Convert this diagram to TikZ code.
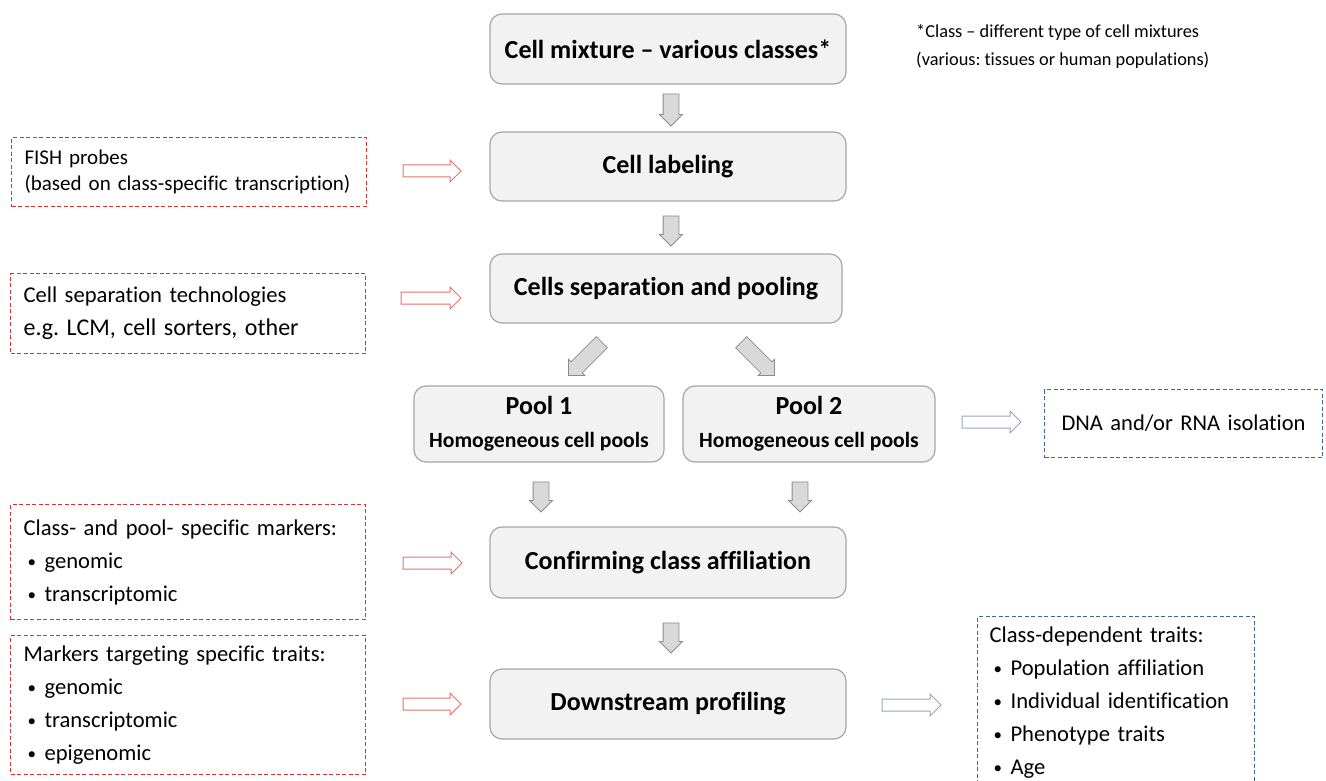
\documentclass[tikz,border=0pt]{standalone}
\usepackage{fontspec}
\setmainfont{Carlito}[Ligatures=NoCommon]
\usetikzlibrary{shapes.arrows}
\definecolor{boxfill}{HTML}{F2F2F2}
\definecolor{boxdraw}{HTML}{A6A6A6}
\definecolor{arrfill}{HTML}{D9D9D9}
\definecolor{arrdraw}{HTML}{8C8C8C}
\definecolor{redd}{HTML}{DC3030}
\definecolor{blued}{HTML}{3A65A8}
\definecolor{redarr}{HTML}{E57373}
\definecolor{bluearr}{HTML}{9AA6B8}
\newcommand\bulitem{\hspace*{4pt}\makebox[17pt][l]{\raisebox{1pt}{\fontsize{17}{17}\selectfont\textbullet}}}
\frenchspacing
\begin{document}
\begin{tikzpicture}[x=1pt,y=-1pt,
 mainbox/.style={draw=boxdraw, fill=boxfill, rounded corners=12pt, line width=1.2pt,
   font=\fontsize{26}{30}\selectfont\bfseries, align=center, inner sep=0pt},
 sidebox/.style={dashed, dash pattern=on 4pt off 2.5pt, line width=1.1pt, anchor=north west,
   align=left, inner xsep=13pt, inner ysep=0pt, font=\fontsize{22.6}{33}\selectfont},
 redbox/.style={sidebox, draw=redd},
 bluebox/.style={sidebox, draw=blued},
 grayarrow/.style={single arrow, draw=arrdraw, fill=arrfill, inner sep=0pt, inner ysep=7.5pt,
   single arrow head extend=3.5pt, minimum width=22pt, line width=0.8pt},
 outarrow/.style={single arrow, fill=white, inner sep=0pt, inner ysep=5.5pt,
   single arrow head extend=5pt, minimum width=21pt, minimum height=58pt, line width=1pt},
 redarrow/.style={outarrow, draw=redarr},
 bluearrow/.style={outarrow, draw=bluearr},
 note/.style={anchor=west, align=left, inner sep=0pt, font=\fontsize{18.3}{28}\selectfont}
]
\useasboundingbox (0,0) rectangle (1326,781);

% main flow boxes
\node[mainbox, minimum width=356pt, minimum height=70pt] (mix) at (668,49) {Cell mixture -- various classes*};
\node[mainbox, minimum width=356pt, minimum height=69pt] (label) at (668,166.5) {Cell labeling};
\node[mainbox, minimum width=352pt, minimum height=69pt] (sep) at (666,288.5) {Cells separation and pooling};
\node[mainbox, minimum width=250pt, minimum height=76pt, font=\fontsize{21.7}{30}\selectfont\bfseries] (pool1) at (539,424)
  {{\fontsize{26}{30}\selectfont Pool 1}\\[3pt]Homogeneous cell pools};
\node[mainbox, minimum width=252pt, minimum height=76pt, font=\fontsize{21.7}{30}\selectfont\bfseries] (pool2) at (809,424)
  {{\fontsize{26}{30}\selectfont Pool 2}\\[3pt]Homogeneous cell pools};
\node[mainbox, minimum width=356pt, minimum height=71pt] (conf) at (668,562.5) {Confirming class affiliation};
\node[mainbox, minimum width=356pt, minimum height=70pt] (down) at (668,704) {Downstream profiling};

% note
\node[note] (note) at (916,46) {*Class -- different type of cell mixtures\\(various: tissues or human populations)};

% left dashed boxes
\node[redbox, text width=329pt, minimum height=69pt, font=\fontsize{21}{26}\selectfont] (fish) at (11,137)
  {FISH probes\\(based on class-specific transcription)};
\node[redbox, text width=329pt, minimum height=80pt] (cst) at (10,273)
  {{\fontsize{22.6}{33}\selectfont Cell separation technologies}\\{\fontsize{24}{33}\selectfont e.g. LCM, cell sorters, other}};
\node[redbox, text width=329pt, minimum height=115pt] (cpm) at (10,504)
  {Class- and pool- specific markers:\\\bulitem genomic\\\bulitem transcriptomic};
\node[redbox, text width=329pt, minimum height=139pt] (mts) at (10,635)
  {Markers targeting specific traits:\\\bulitem genomic\\\bulitem transcriptomic\\\bulitem epigenomic};

% right dashed boxes
\node[bluebox, text width=252pt, minimum height=68pt, align=center, font=\fontsize{22.5}{30}\selectfont] (dna) at (1044,389) {DNA and/or RNA isolation};
\node[bluebox, text width=253pt, minimum height=173pt, inner xsep=12pt] (cdt) at (977,616)
  {Class-dependent traits:\\\bulitem Population affiliation\\\bulitem Individual identification\\\bulitem Phenotype traits\\\bulitem Age};

% gray block arrows
\node[grayarrow, minimum height=32pt, rotate=-90] (g1) at (671,106) {};
\node[grayarrow, minimum height=30pt, rotate=-90] (g2) at (671,227) {};
\node[grayarrow, minimum height=47pt, rotate=-135] (g3) at (588,356) {};
\node[grayarrow, minimum height=47pt, rotate=-45] (g4) at (755,356) {};
\node[grayarrow, minimum height=30pt, rotate=-90] (g5) at (541,493) {};
\node[grayarrow, minimum height=30pt, rotate=-90] (g6) at (800,493) {};
\node[grayarrow, minimum height=30pt, rotate=-90] (g7) at (671,634) {};

% outline arrows
\node[redarrow] (r1) at (429,171) {};
\node[redarrow, minimum height=60pt] (r2) at (428,298) {};
\node[redarrow, minimum height=59pt] (r3) at (429.5,563) {};
\node[redarrow] (r4) at (429,704) {};
\node[bluearrow, minimum height=59pt] (b1) at (988.5,422) {};
\node[bluearrow, minimum height=59pt] (b2) at (908.5,705) {};
\end{tikzpicture}
\end{document}
